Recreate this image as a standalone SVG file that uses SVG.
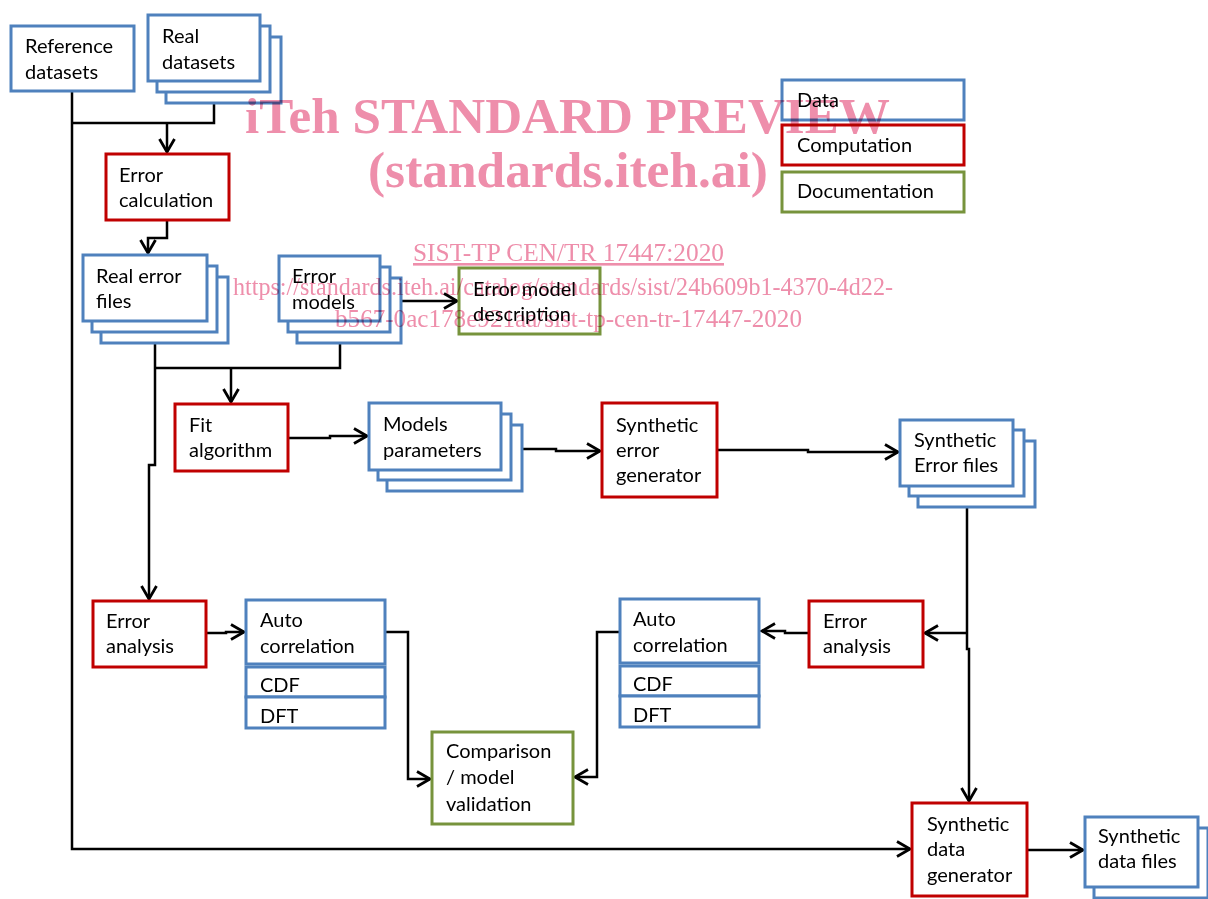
<svg xmlns="http://www.w3.org/2000/svg" width="1208" height="899" viewBox="0 0 1208 899">
<defs>
<style>
.d{fill:#fff;stroke:#4F81BD;stroke-width:3}
.c{fill:#fff;stroke:#C00000;stroke-width:3}
.g{fill:#fff;stroke:#77933C;stroke-width:3}
.t{font-family:Lato,"Liberation Sans",sans-serif;font-size:20px;fill:#000}
.ln{fill:none;stroke:#000;stroke-width:2.5}
.wm{fill:#EE8EAB;font-family:"Liberation Serif","Times New Roman",serif;mix-blend-mode:multiply}
</style>
<marker id="ah" markerUnits="userSpaceOnUse" markerWidth="18" markerHeight="20" viewBox="0 0 18 20" refX="15" refY="10" orient="auto">
<path d="M2,2.5 L15,10 L2,17.5" fill="none" stroke="#000" stroke-width="2.8"/>
</marker>
</defs>
<rect width="1208" height="899" fill="#fff"/>

<g id="connectors">
<path class="ln" d="M72,91 V849 H910" marker-end="url(#ah)"/>
<path class="ln" d="M214,103 V123 H72"/>
<path class="ln" d="M167,123 V152" marker-end="url(#ah)"/>
<path class="ln" d="M167,220 V238 H148 V253" marker-end="url(#ah)"/>
<path class="ln" d="M155,343 V465 H149 V599" marker-end="url(#ah)"/>
<path class="ln" d="M155,368 H340 V343"/>
<path class="ln" d="M231,368 V402" marker-end="url(#ah)"/>
<path class="ln" d="M390,301 H457" marker-end="url(#ah)"/>
<path class="ln" d="M288,438 H330 V436 H367" marker-end="url(#ah)"/>
<path class="ln" d="M512,449 H556 V451 H600" marker-end="url(#ah)"/>
<path class="ln" d="M717,450 H808 V452 H898" marker-end="url(#ah)"/>
<path class="ln" d="M967,507 V649 H969 V801" marker-end="url(#ah)"/>
<path class="ln" d="M967,633 H925" marker-end="url(#ah)"/>
<path class="ln" d="M809,633 H785 V631 H762" marker-end="url(#ah)"/>
<path class="ln" d="M620,632 H597 V777 H575" marker-end="url(#ah)"/>
<path class="ln" d="M206,633 H226 V632 H244" marker-end="url(#ah)"/>
<path class="ln" d="M385,632 H408 V779 H430" marker-end="url(#ah)"/>
<path class="ln" d="M1027,850 H1083" marker-end="url(#ah)"/>
</g>

<g id="reference-datasets">
<rect class="d" x="11" y="26" width="123" height="65"/>
<text class="t" x="25" y="53">Reference</text>
<text class="t" x="25" y="79">datasets</text>
</g>

<g id="real-datasets">
<rect class="d" x="166" y="37" width="115" height="66"/>
<rect class="d" x="157" y="26" width="113" height="66"/>
<rect class="d" x="148" y="15" width="112" height="66"/>
<text class="t" x="162" y="43">Real</text>
<text class="t" x="162" y="69">datasets</text>
</g>

<g id="error-calculation">
<rect class="c" x="106" y="154" width="123" height="66"/>
<text class="t" x="119" y="182">Error</text>
<text class="t" x="119" y="207">calculation</text>
</g>

<g id="real-error-files">
<rect class="d" x="101" y="277" width="127" height="66"/>
<rect class="d" x="92" y="266" width="125" height="66"/>
<rect class="d" x="83" y="255" width="124" height="66"/>
<text class="t" x="96" y="283">Real error</text>
<text class="t" x="96" y="308">files</text>
</g>

<g id="error-models">
<rect class="d" x="297" y="278" width="104" height="65"/>
<rect class="d" x="288" y="267" width="102" height="65"/>
<rect class="d" x="279" y="256" width="101" height="65"/>
<text class="t" x="292" y="283">Error</text>
<text class="t" x="292" y="309">models</text>
</g>

<g id="error-model-description">
<rect class="g" x="459" y="268" width="141" height="66"/>
<text class="t" x="473" y="296">Error model</text>
<text class="t" x="473" y="321">description</text>
</g>

<g id="fit-algorithm">
<rect class="c" x="175" y="404" width="113" height="67"/>
<text class="t" x="189" y="432">Fit</text>
<text class="t" x="189" y="457">algorithm</text>
</g>

<g id="models-parameters">
<rect class="d" x="387" y="425" width="135" height="66"/>
<rect class="d" x="378" y="414" width="133" height="66"/>
<rect class="d" x="369" y="403" width="132" height="67"/>
<text class="t" x="383" y="431">Models</text>
<text class="t" x="383" y="457">parameters</text>
</g>

<g id="synthetic-error-generator">
<rect class="c" x="602" y="403" width="115" height="94"/>
<text class="t" x="616" y="432">Synthetic</text>
<text class="t" x="616" y="457">error</text>
<text class="t" x="616" y="482">generator</text>
</g>

<g id="synthetic-error-files">
<rect class="d" x="918" y="441" width="117" height="66"/>
<rect class="d" x="909" y="430" width="115" height="66"/>
<rect class="d" x="900" y="420" width="113" height="66"/>
<text class="t" x="914" y="447">Synthetic</text>
<text class="t" x="914" y="472">Error files</text>
</g>

<g id="error-analysis-left">
<rect class="c" x="93" y="601" width="113" height="66"/>
<text class="t" x="106" y="628">Error</text>
<text class="t" x="106" y="653">analysis</text>
</g>

<g id="auto-correlation-left">
<rect class="d" x="246" y="600" width="139" height="64"/>
<rect class="d" x="246" y="667" width="139" height="30"/>
<rect class="d" x="246" y="697" width="139" height="31"/>
<text class="t" x="260" y="627">Auto</text>
<text class="t" x="260" y="653">correlation</text>
<text class="t" x="260" y="692">CDF</text>
<text class="t" x="260" y="723">DFT</text>
</g>

<g id="comparison">
<rect class="g" x="432" y="732" width="141" height="92"/>
<text class="t" x="446" y="758">Comparison</text>
<text class="t" x="446" y="784">/ model</text>
<text class="t" x="446" y="811">validation</text>
</g>

<g id="auto-correlation-right">
<rect class="d" x="620" y="599" width="139" height="64"/>
<rect class="d" x="620" y="666" width="139" height="30"/>
<rect class="d" x="620" y="696" width="139" height="31"/>
<text class="t" x="633" y="626">Auto</text>
<text class="t" x="633" y="652">correlation</text>
<text class="t" x="633" y="691">CDF</text>
<text class="t" x="633" y="722">DFT</text>
</g>

<g id="error-analysis-right">
<rect class="c" x="809" y="601" width="114" height="66"/>
<text class="t" x="823" y="628">Error</text>
<text class="t" x="823" y="653">analysis</text>
</g>

<g id="synthetic-data-generator">
<rect class="c" x="912" y="803" width="115" height="93"/>
<text class="t" x="927" y="831">Synthetic</text>
<text class="t" x="927" y="856">data</text>
<text class="t" x="927" y="882">generator</text>
</g>

<g id="synthetic-data-files">
<rect class="d" x="1103" y="839" width="116" height="70"/>
<rect class="d" x="1094" y="828" width="114" height="70"/>
<rect class="d" x="1085" y="817" width="113" height="70"/>
<text class="t" x="1098" y="843">Synthetic</text>
<text class="t" x="1098" y="868">data files</text>
</g>

<g id="legend">
<rect class="d" x="782" y="80" width="182" height="40"/>
<text class="t" x="797" y="107">Data</text>
<rect class="c" x="782" y="125" width="182" height="40"/>
<text class="t" x="797" y="152">Computation</text>
<rect class="g" x="782" y="172" width="182" height="40"/>
<text class="t" x="797" y="198">Documentation</text>
</g>

<g id="watermark">
<text class="wm" x="245" y="133" font-size="50" font-weight="bold" textLength="645" lengthAdjust="spacingAndGlyphs">iTeh STANDARD PREVIEW</text>
<text class="wm" x="368" y="187" font-size="50" font-weight="bold" textLength="400" lengthAdjust="spacingAndGlyphs">(standards.iteh.ai)</text>
<text class="wm" x="413" y="261" font-size="26" textLength="311" lengthAdjust="spacingAndGlyphs" text-decoration="underline">SIST-TP CEN/TR 17447:2020</text>
<text class="wm" x="233" y="295" font-size="25" textLength="660" lengthAdjust="spacingAndGlyphs">https://standards.iteh.ai/catalog/standards/sist/24b609b1-4370-4d22-</text>
<text class="wm" x="335" y="327" font-size="25" textLength="467" lengthAdjust="spacingAndGlyphs">b567-0ac178e921aa/sist-tp-cen-tr-17447-2020</text>
</g>
</svg>
